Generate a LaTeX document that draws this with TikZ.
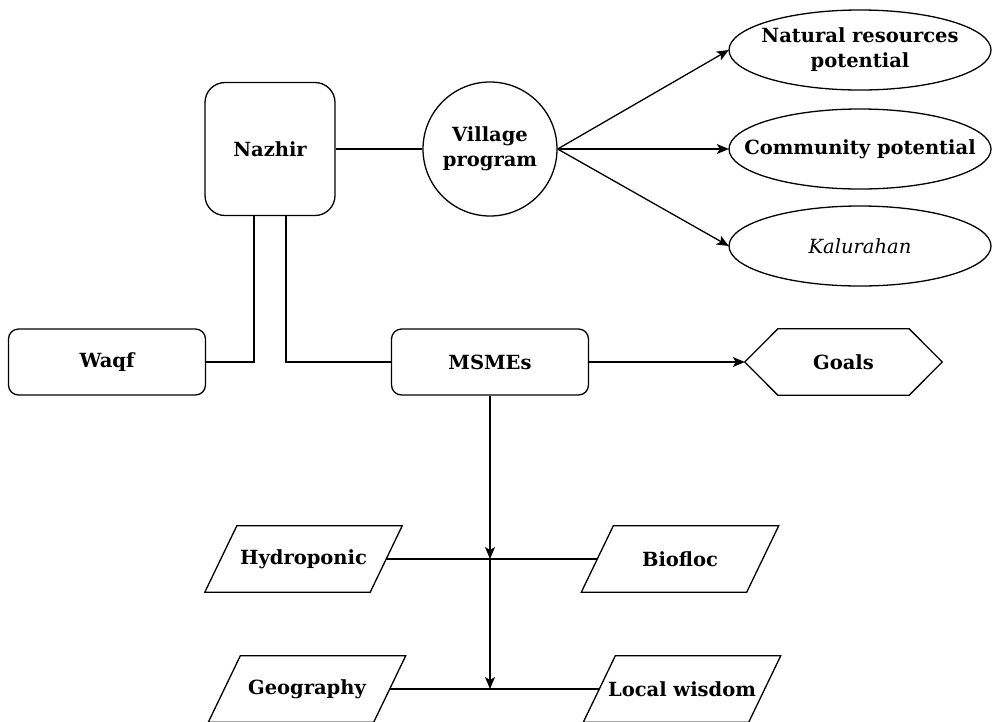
\documentclass[tikz,border=0pt]{standalone}
\usepackage{fontspec}
\setmainfont{DejaVu Serif}
\usetikzlibrary{shapes.geometric,arrows.meta,calc}
\begin{document}
\begin{tikzpicture}[x=1pt,y=-1pt,
  txt/.style={font=\fontsize{19.5}{25}\selectfont\bfseries, align=center, inner sep=0pt},
  box/.style={txt, draw, line width=1.3pt, rounded corners=10pt, minimum width=197pt, minimum height=66pt},
  bigbox/.style={txt, draw, line width=1.3pt, rounded corners=20pt, minimum width=130pt, minimum height=133pt},
  circ/.style={txt, draw, line width=1.3pt, circle, minimum size=134pt},
  ell/.style={txt, minimum width=262pt, minimum height=80pt},
  hexa/.style={txt, minimum width=197pt, minimum height=66pt},
  para/.style={txt, minimum width=165pt, minimum height=66pt},
  line/.style={line width=1.3pt},
  arr/.style={line width=1.3pt, -{Stealth[length=12pt,width=10pt,inset=3pt]}}]
\useasboundingbox (0,0) rectangle (992,721);
\fill[white] (0,0) rectangle (992,721);

\node[bigbox] (naz) at (270,149) {Nazhir};
\node[circ] (vil) at (490,149) {Village\\program};
\node[ell] (nat) at (860,50) {Natural resources\\potential};
\node[ell] (com) at (860,149) {Community potential};
\node[ell, font=\fontsize{19.5}{25}\selectfont\itshape] (kal) at (860,246) {Kalurahan};
\node[box] (waq) at (107,362) {Waqf};
\node[box] (msm) at (490,362) {MSMEs};
\node[hexa] (goa) at (843.5,362) {Goals};
\node[para] (hyd) at (303.5,559) {Hydroponic};
\node[para] (bio) at (680,559) {Biofloc};
\node[para] (geo) at (307,689) {Geography};
\node[para] (loc) at (682,689) {Local wisdom};
\coordinate (j1) at (490,559);
\coordinate (j2) at (490,689);

% ellipse outlines
\foreach \n in {nat,com,kal}{
  \draw[line] (\n.center) ellipse [x radius=131, y radius=40];
}
% hexagon outline
\draw[line] (goa.west) -- ($(goa.north west)+(33,0)$) -- ($(goa.north east)+(-33,0)$) -- (goa.east)
  -- ($(goa.south east)+(-33,0)$) -- ($(goa.south west)+(33,0)$) -- cycle;
% parallelogram outlines
\foreach \n in {hyd,bio,geo,loc}{
  \draw[line] ($(\n.south west)+(-16,0)$) -- ($(\n.north west)+(16,0)$)
    -- ($(\n.north east)+(16,0)$) -- ($(\n.south east)+(-16,0)$) -- cycle;
}

\draw[line] (naz) -- (vil);
\draw[arr] (vil.east) -- (nat.west);
\draw[arr] (vil.east) -- (com.west);
\draw[arr] (vil.east) -- (kal.west);
\draw[line] ([xshift=-16pt]naz.south) |- (waq.east);
\draw[line] ([xshift=16pt]naz.south) |- (msm.west);
\draw[arr] (msm) -- (goa.west);
\draw[line] (hyd) -- (bio);
\draw[line] (geo) -- (loc);
\draw[arr] (msm) -- (j1);
\draw[arr] (j1) -- (j2);
\end{tikzpicture}
\end{document}
